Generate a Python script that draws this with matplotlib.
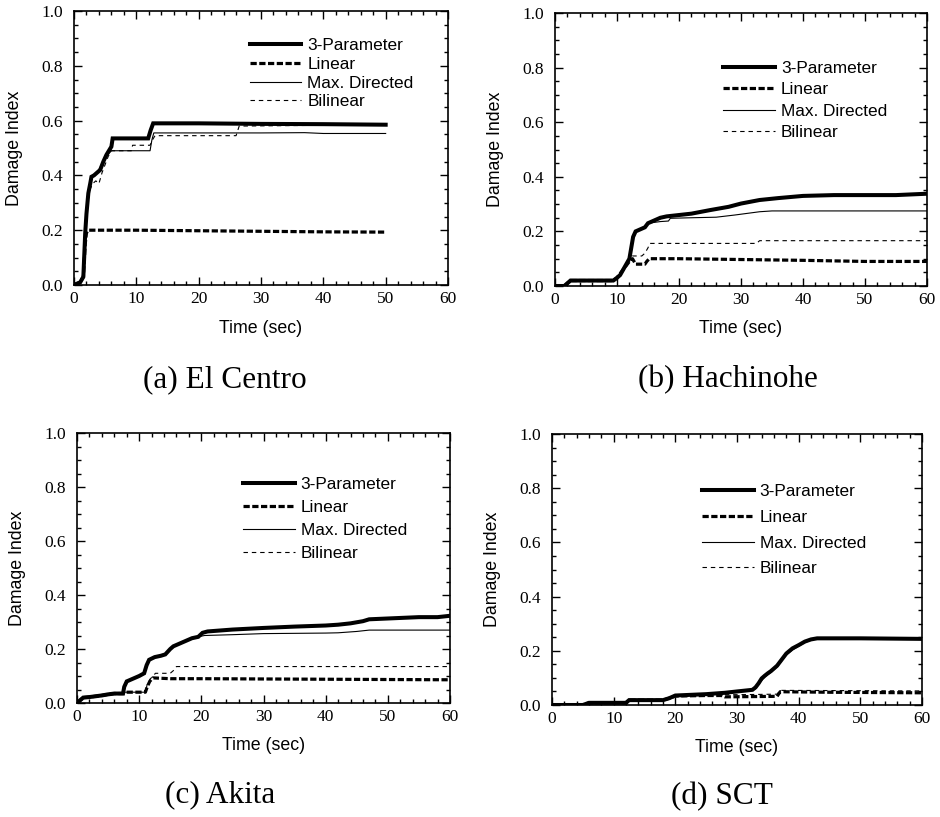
import matplotlib
matplotlib.use('Agg')
import matplotlib.pyplot as plt
from matplotlib.ticker import MultipleLocator, FormatStrFormatter

plt.rcParams['font.family'] = ['Liberation Sans', 'DejaVu Sans']
plt.rcParams['lines.scale_dashes'] = False

W, H = 940, 817

# ---- (a) El Centro ----
a_3p_t = [0, 0.5, 1.0, 1.5, 1.8, 2.0, 2.3, 2.6, 2.8, 3.2, 3.7, 4.2, 4.7, 5.2, 5.6, 6.0, 6.2, 9.0, 11.9, 12.3, 12.7, 20, 30, 40, 50]
a_3p_v = [0, 0.005, 0.01, 0.03, 0.19, 0.26, 0.335, 0.37, 0.395, 0.40, 0.41, 0.42, 0.45, 0.475, 0.49, 0.505, 0.535, 0.535, 0.535, 0.565, 0.59, 0.59, 0.588, 0.587, 0.585]
a_lin_t = [0, 0.5, 1.0, 1.5, 1.8, 2.0, 2.3, 5, 10, 20, 30, 40, 50]
a_lin_v = [0, 0.005, 0.01, 0.03, 0.15, 0.19, 0.2, 0.2, 0.2, 0.198, 0.196, 0.194, 0.193]
a_md_t = [0, 0.5, 1.0, 1.5, 1.8, 2.0, 2.3, 2.6, 2.8, 3.2, 3.7, 4.2, 4.7, 5.2, 5.6, 6.0, 9.0, 12.2, 12.5, 12.8, 20, 30, 37, 40, 50]
a_md_v = [0, 0.005, 0.01, 0.03, 0.19, 0.26, 0.33, 0.37, 0.39, 0.40, 0.41, 0.43, 0.45, 0.47, 0.48, 0.49, 0.49, 0.49, 0.53, 0.555, 0.555, 0.555, 0.556, 0.553, 0.553]
a_bil_t = [0, 0.5, 1.0, 1.5, 1.8, 2.0, 2.3, 2.6, 3.0, 3.5, 4.0, 4.5, 5.0, 5.5, 6.0, 9.2, 9.4, 12.2, 12.6, 13.0, 26.0, 26.5, 50]
a_bil_v = [0, 0.005, 0.01, 0.03, 0.18, 0.25, 0.31, 0.35, 0.37, 0.38, 0.37, 0.41, 0.44, 0.47, 0.49, 0.49, 0.51, 0.51, 0.53, 0.545, 0.545, 0.58, 0.585]

# ---- (b) Hachinohe ----
b_3p_t = [0, 1.5, 2.0, 2.5, 5, 9.4, 10, 10.5, 11, 11.5, 12, 12.3, 12.6, 13.0, 13.5, 14, 14.5, 15, 15.5, 16, 17, 18, 20, 22, 25, 28, 30, 33, 36, 40, 45, 50, 55, 60]
b_3p_v = [0, 0, 0.01, 0.02, 0.02, 0.02, 0.03, 0.04, 0.06, 0.08, 0.1, 0.14, 0.18, 0.2, 0.205, 0.21, 0.215, 0.23, 0.235, 0.24, 0.25, 0.255, 0.26, 0.265, 0.278, 0.29, 0.302, 0.315, 0.322, 0.33, 0.333, 0.333, 0.333, 0.338]
b_lin_t = [0, 1.5, 2.0, 2.5, 9.4, 10, 11, 12, 12.5, 13, 14.5, 14.8, 15.2, 20, 30, 40, 50, 60]
b_lin_v = [0, 0, 0.01, 0.02, 0.02, 0.03, 0.06, 0.09, 0.1, 0.08, 0.08, 0.09, 0.1, 0.1, 0.097, 0.094, 0.09, 0.09]
b_md_t = [0, 1.5, 2.0, 2.5, 5, 9.4, 10, 10.5, 11, 11.5, 12, 12.3, 12.6, 13.0, 13.5, 14, 14.5, 15, 17, 18.3, 18.6, 22, 26, 29, 33, 35, 45, 60]
b_md_v = [0, 0, 0.01, 0.02, 0.02, 0.02, 0.03, 0.04, 0.06, 0.08, 0.1, 0.14, 0.18, 0.2, 0.205, 0.21, 0.215, 0.23, 0.236, 0.238, 0.248, 0.25, 0.252, 0.26, 0.272, 0.275, 0.275, 0.275]
b_bil_t = [0, 1.5, 2.0, 2.5, 9.4, 10, 11, 12, 12.5, 13, 14, 14.5, 15, 15.3, 32.5, 33, 60]
b_bil_v = [0, 0, 0.01, 0.02, 0.02, 0.03, 0.06, 0.1, 0.11, 0.11, 0.11, 0.12, 0.14, 0.156, 0.156, 0.166, 0.166]

# ---- (c) Akita ----
c_3p_t = [0, 0.5, 1, 2, 3, 4, 5, 6, 7.4, 7.6, 8, 9, 10, 10.8, 11.2, 11.6, 12.5, 13.5, 14.2, 15, 15.5, 16.5, 17.5, 18.5, 19.5, 20.2, 21, 25, 30, 35, 40, 42, 44, 46, 47, 50, 55, 58, 60]
c_3p_v = [0, 0.01, 0.02, 0.022, 0.025, 0.028, 0.032, 0.035, 0.035, 0.06, 0.08, 0.09, 0.1, 0.11, 0.14, 0.16, 0.17, 0.175, 0.18, 0.2, 0.21, 0.22, 0.23, 0.24, 0.245, 0.26, 0.265, 0.272, 0.278, 0.283, 0.287, 0.29, 0.295, 0.303, 0.31, 0.313, 0.318, 0.318, 0.323]
c_lin_t = [0, 0.5, 1, 2, 3, 4, 5, 6, 7.4, 7.6, 11, 11.3, 11.7, 12.2, 15, 20, 30, 40, 50, 60]
c_lin_v = [0, 0.01, 0.02, 0.022, 0.025, 0.028, 0.032, 0.035, 0.035, 0.04, 0.04, 0.06, 0.08, 0.093, 0.09, 0.09, 0.089, 0.088, 0.087, 0.086]
c_md_t = [0, 0.5, 1, 2, 3, 4, 5, 6, 7.4, 7.6, 8, 9, 10, 10.8, 11.2, 11.6, 12.5, 13.5, 14.2, 15, 15.5, 16.5, 17.5, 18.5, 19.5, 20.5, 25, 30, 40, 42, 45, 47, 60]
c_md_v = [0, 0.01, 0.02, 0.022, 0.025, 0.028, 0.032, 0.035, 0.035, 0.06, 0.08, 0.09, 0.1, 0.11, 0.14, 0.16, 0.17, 0.175, 0.18, 0.2, 0.21, 0.22, 0.23, 0.24, 0.245, 0.25, 0.253, 0.257, 0.259, 0.26, 0.265, 0.27, 0.27]
c_bil_t = [0, 0.5, 1, 2, 3, 4, 5, 6, 7.4, 7.6, 11, 11.3, 11.8, 12.3, 12.6, 15, 15.5, 16, 60]
c_bil_v = [0, 0.01, 0.02, 0.022, 0.025, 0.028, 0.032, 0.035, 0.035, 0.04, 0.04, 0.07, 0.09, 0.1, 0.11, 0.11, 0.12, 0.135, 0.135]

# ---- (d) SCT ----
d_3p_t = [0, 5, 6, 12, 12.5, 18, 19, 20, 22, 25, 28, 30, 32.5, 33, 33.5, 34, 34.5, 35, 35.5, 36, 36.5, 37, 37.5, 38, 39, 40, 41, 42, 43, 50, 60]
d_3p_v = [0, 0, 0.008, 0.008, 0.018, 0.018, 0.025, 0.035, 0.037, 0.04, 0.045, 0.05, 0.056, 0.065, 0.08, 0.098, 0.108, 0.117, 0.125, 0.135, 0.145, 0.16, 0.175, 0.19, 0.209, 0.221, 0.234, 0.242, 0.246, 0.246, 0.244]
d_lin_t = [0, 5, 6, 12, 12.5, 18, 19, 20, 25, 27.5, 28, 36.5, 37, 45, 60]
d_lin_v = [0, 0, 0.008, 0.008, 0.018, 0.018, 0.025, 0.033, 0.035, 0.035, 0.03, 0.032, 0.049, 0.047, 0.045]
d_md_t = [0, 5, 6, 12, 12.5, 18, 19, 20, 22, 25, 28, 30, 32.5, 33, 33.5, 34, 34.5, 35, 35.5, 36, 36.5, 37, 37.5, 38, 39, 40, 41, 42, 43, 50, 60]
d_md_v = [0, 0, 0.008, 0.008, 0.018, 0.018, 0.025, 0.034, 0.036, 0.039, 0.044, 0.049, 0.054, 0.06, 0.075, 0.09, 0.103, 0.112, 0.12, 0.13, 0.14, 0.155, 0.17, 0.185, 0.203, 0.217, 0.23, 0.24, 0.244, 0.245, 0.243]
d_bil_t = [0, 5, 6, 12, 12.5, 18, 19, 20, 25, 28, 30, 36.5, 37, 60]
d_bil_v = [0, 0, 0.008, 0.008, 0.018, 0.018, 0.025, 0.034, 0.037, 0.038, 0.038, 0.04, 0.054, 0.052]

labels = ['3-Parameter', 'Linear', 'Max. Directed', 'Bilinear']
captions = ['(a) El Centro', '(b) Hachinohe', '(c) Akita', '(d) SCT']

panels = [
    (a_3p_t, a_3p_v, a_lin_t, a_lin_v, a_md_t, a_md_v, a_bil_t, a_bil_v),
    (b_3p_t, b_3p_v, b_lin_t, b_lin_v, b_md_t, b_md_v, b_bil_t, b_bil_v),
    (c_3p_t, c_3p_v, c_lin_t, c_lin_v, c_md_t, c_md_v, c_bil_t, c_bil_v),
    (d_3p_t, d_3p_v, d_lin_t, d_lin_v, d_md_t, d_md_v, d_bil_t, d_bil_v),
]

# axes boxes in pixels: left, top, right, bottom
boxes = [(74, 11, 448, 285), (555, 13, 927, 286), (77, 433, 450, 703), (552, 434, 922, 705)]
# legend anchor (axes fraction) and row spacing
leg_pos = [(0.47, 0.902, 0.22), (0.452, 0.826, 0.38), (0.445, 0.838, 0.46), (0.405, 0.815, 0.62)]
cap_pos = [(225, 380), (728, 380), (220, 795), (722, 797)]

fig = plt.figure(figsize=(W / 100, H / 100), dpi=100)

for i, (box, data) in enumerate(zip(boxes, panels)):
    l, t, r, b = box
    ax = fig.add_axes([l / W, (H - b) / H, (r - l) / W, (b - t) / H])
    t3, v3, tl, vl, tm, vm, tb, vb = data
    ax.plot(t3, v3, color='black', lw=2.9, label=labels[0], solid_joinstyle='miter')
    ax.plot(tl, vl, color='black', lw=2.3, dashes=(4.5, 1.8), label=labels[1])
    ax.plot(tm, vm, color='black', lw=0.8, label=labels[2])
    ax.plot(tb, vb, color='black', lw=0.8, dashes=(3.2, 2.8), label=labels[3])

    ax.set_xlim(0, 60)
    ax.set_ylim(0, 1.0)
    ax.xaxis.set_major_locator(MultipleLocator(10))
    ax.xaxis.set_minor_locator(MultipleLocator(2))
    ax.yaxis.set_major_locator(MultipleLocator(0.2))
    ax.yaxis.set_minor_locator(MultipleLocator(0.05))
    ax.yaxis.set_major_formatter(FormatStrFormatter('%.1f'))
    ax.tick_params(which='both', direction='in', top=True, right=True, width=1.0)
    ax.tick_params(which='major', length=6)
    ax.tick_params(which='minor', length=3)
    ax.tick_params(axis='x', pad=4)
    ax.tick_params(axis='y', pad=8)
    for lab in ax.get_xticklabels() + ax.get_yticklabels():
        lab.set_fontfamily('Liberation Serif')
        lab.set_fontsize(12.5)
    for sp in ax.spines.values():
        sp.set_linewidth(1.2)

    ax.set_xlabel('Time (sec)', fontsize=12.8, va='center')
    ax.set_ylabel('Damage Index', fontsize=12.8, va='center')
    ax.xaxis.set_label_coords(0.5, -0.157)
    ax.yaxis.set_label_coords(-0.16, 0.5)

    lx, ly, ls = leg_pos[i]
    ax.legend(loc='upper left', bbox_to_anchor=(lx, ly), frameon=False,
              fontsize=12.4, handlelength=3.0, handletextpad=0.35,
              labelspacing=ls, borderpad=0, borderaxespad=0)

    cx, cy = cap_pos[i]
    fig.text(cx / W, 1 - cy / H, captions[i], ha='center', va='center',
             fontsize=22.5, family='Liberation Serif')

fig.savefig('out.png', dpi=100, facecolor='white')
